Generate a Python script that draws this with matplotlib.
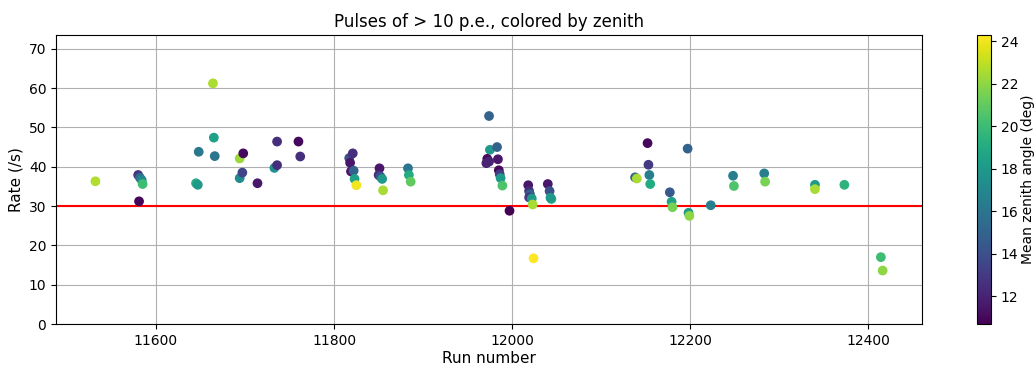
import numpy as np
import matplotlib.pyplot as plt

# run number, rate of pulses > 10 p.e., mean zenith angle
runs = [11532, 11580, 11582, 11584, 11585, 11581,
        11645, 11647, 11648, 11664, 11665, 11666,
        11694, 11698, 11694, 11697, 11714, 11733, 11736, 11736,
        11760, 11762, 11817, 11821, 11818, 11819, 11822, 11823, 11825,
        11851, 11850, 11852, 11854, 11855, 11883, 11884, 11886,
        11974, 11975, 11983, 11972, 11971, 11974, 11984, 11985, 11986, 11987, 11989, 11997,
        12018, 12019, 12020, 12019, 12022, 12023, 12024,
        12040, 12042, 12044, 12043,
        12138, 12140, 12152, 12153, 12154, 12155,
        12177, 12179, 12180, 12197, 12198, 12199, 12223,
        12248, 12249, 12283, 12284, 12340, 12340, 12373, 12414, 12416]
rates = [36.3, 37.9, 37.2, 36.6, 35.6, 31.2,
         35.8, 35.4, 43.8, 61.2, 47.4, 42.7,
         42.1, 43.4, 37.1, 38.5, 35.8, 39.7, 40.4, 46.4,
         46.4, 42.6, 42.2, 43.4, 41.0, 38.8, 39.0, 36.9, 35.3,
         39.6, 37.9, 37.5, 36.9, 34.0, 39.6, 37.9, 36.2,
         52.9, 44.3, 45.0, 42.0, 40.9, 41.3, 41.9, 39.1, 38.1, 37.1, 35.2, 28.8,
         35.3, 33.8, 33.0, 32.2, 31.9, 30.4, 16.7,
         35.6, 33.8, 31.8, 32.1,
         37.3, 37.0, 46.0, 40.5, 37.9, 35.6,
         33.5, 31.1, 29.7, 44.6, 28.3, 27.5, 30.2,
         37.7, 35.1, 38.3, 36.2, 35.4, 34.3, 35.4, 17.0, 13.6]
zenith = [22.7, 12.8, 15.5, 17.0, 20.0, 10.9,
          19.0, 18.0, 16.2, 22.6, 18.5, 16.0,
          22.3, 11.0, 17.2, 13.5, 11.5, 17.5, 12.5, 12.5,
          11.0, 12.5, 14.0, 12.5, 11.5, 11.5, 15.0, 18.5, 24.0,
          11.5, 12.5, 14.0, 18.0, 22.5, 16.0, 19.0, 21.0,
          15.0, 18.0, 15.0, 11.0, 12.0, 12.0, 11.5, 11.0, 13.0, 18.0, 20.5, 10.7,
          11.5, 12.5, 15.0, 13.0, 18.0, 22.5, 24.3,
          11.5, 14.0, 19.0, 18.0,
          15.0, 22.5, 11.0, 13.0, 16.5, 19.0,
          14.5, 18.5, 21.5, 15.0, 18.0, 22.0, 16.5,
          16.5, 20.5, 16.5, 21.5, 18.0, 22.5, 19.5, 20.0, 22.0]
threshold = 30

fig = plt.figure(figsize=(10.34, 3.65), dpi=100)
ax = fig.add_axes([0.0542, 0.1123, 0.8375, 0.7918])
cax = fig.add_axes([0.9444, 0.1123, 0.0140, 0.7918])

sc = ax.scatter(runs, rates, c=zenith, cmap='viridis', vmin=10.7, vmax=24.3, zorder=3)
ax.axhline(threshold, color='red', zorder=2)
ax.set_ylim(0, 73.5)
ax.grid(True)
ax.set_title('Pulses of > 10 p.e., colored by zenith')
ax.set_xlabel('Run number', fontsize=11, labelpad=2)
ax.set_ylabel('Rate (/s)', fontsize=11)

cb = fig.colorbar(sc, cax=cax)
cb.set_label('Mean zenith angle (deg)', labelpad=2)

fig.savefig('out.png')
